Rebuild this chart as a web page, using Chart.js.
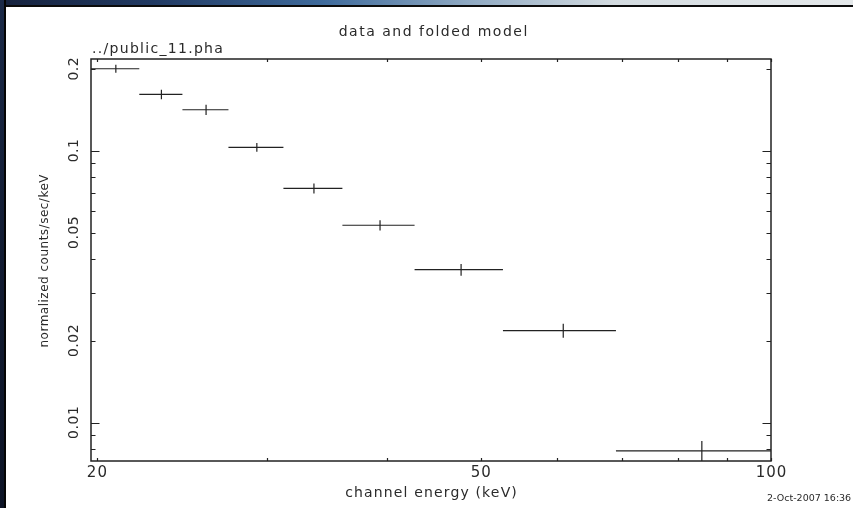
<!DOCTYPE html>
<html>
<head>
<meta charset="utf-8">
<title>data and folded model</title>
<script src="https://cdn.jsdelivr.net/npm/chart.js@4.4.1/dist/chart.umd.min.js"></script>
<style>
  html, body { margin: 0; padding: 0; background: #fff; }
  #frame { position: relative; width: 853px; height: 508px; overflow: hidden; background: #fff; }
  #plot { position: absolute; left: 0; top: 0; }
  #titlebar {
    position: absolute; left: 0; top: 0; width: 853px; height: 5px; z-index: 2;
    background: linear-gradient(90deg, #16223d 0%, #213a63 18%, #3f6b9c 38%, #8fa9c2 55%, #d3dbe0 72%, #e4e8ea 100%);
    border-bottom: 2px solid #0b0b0b;
  }
  #sidebar {
    position: absolute; left: 0; top: 0; width: 4px; height: 508px; z-index: 2;
    background: linear-gradient(180deg, #1b2a48 0%, #121c33 50%, #0d1426 100%);
    border-right: 2px solid #050505;
  }
</style>
</head>
<body>
<div id="frame">
  <canvas id="plot" width="853" height="508"></canvas>
  <div id="titlebar"></div>
  <div id="sidebar"></div>
</div>
<script>
// Spectrum bins: channel energy edges (keV), folded rate and 1-sigma error
const binLow  = [19.72, 22.13, 24.53, 27.38, 31.22, 35.94, 42.70, 52.73, 69.06];
const binHigh = [22.13, 24.53, 27.38, 31.22, 35.94, 42.70, 52.73, 69.06, 100.5];
const rate    = [0.2003, 0.1612, 0.1415, 0.1029, 0.0727, 0.0532, 0.0365, 0.0218, 0.00786];
const rateErr = [0.0068, 0.0064, 0.0061, 0.0038, 0.0031, 0.0023, 0.0018, 0.0013, 0.0007];

// Axis ranges
const xRange = [19.72, 100];
const yRange = [0.00722, 0.2175];

// Tick marks and labels
const xTickValues  = [20, 30, 40, 50, 60, 70, 80, 90, 100];
const xLabelValues = [20, 50, 100];
const xLabelText   = ['20', '50', '100'];
const yMajorTicks  = [0.01, 0.1];
const yMinorTicks  = [0.008, 0.009, 0.02, 0.03, 0.04, 0.05, 0.06, 0.07, 0.08, 0.09, 0.2];
const yLabelValues = [0.01, 0.02, 0.05, 0.1, 0.2];
const yLabelText   = ['0.01', '0.02', '0.05', '0.1', '0.2'];

// Text
const plotTitle  = 'data and folded model';
const fileName   = '../public_11.pha';
const xAxisTitle = 'channel energy (keV)';
const yAxisTitle = 'normalized counts/sec/keV';
const stampText  = '2-Oct-2007 16:36';

// Horizontal bars span each bin; vertical bars show the error at the bin centre.
const binBars = binLow.flatMap((lo, i) => [
  { x: lo, y: rate[i] },
  { x: binHigh[i], y: rate[i] },
  { x: binHigh[i], y: null }
]);
const errBars = binLow.flatMap((lo, i) => {
  const c = (lo + binHigh[i]) / 2;
  return [
    { x: c, y: rate[i] - rateErr[i] },
    { x: c, y: rate[i] + rateErr[i] },
    { x: c, y: null }
  ];
});

const INK = '#222';
const TEXT = '#2a2a2a';
const FONT = '"DejaVu Sans", "Liberation Sans", sans-serif';

// Draws text centred on (x, y) with extra spacing between letters.
function spacedText(ctx, str, x, y, spacing, align) {
  ctx.letterSpacing = spacing + 'px';
  const w = ctx.measureText(str).width - spacing;
  const start = align === 'left' ? x : x - w / 2;
  ctx.textAlign = 'left';
  ctx.fillText(str, start, y);
  ctx.letterSpacing = '0px';
}

const framePlugin = {
  id: 'pgFrame',
  afterDraw(chart) {
    const { ctx, chartArea: a, scales: { x, y } } = chart;
    ctx.save();
    ctx.strokeStyle = INK;
    ctx.lineWidth = 1.5;
    ctx.strokeRect(a.left, a.top, a.right - a.left, a.bottom - a.top);

    // inward tick marks on all four sides
    ctx.lineWidth = 1.2;
    ctx.beginPath();
    xTickValues.forEach(v => {
      const px = Math.round(x.getPixelForValue(v)) + 0.5;
      ctx.moveTo(px, a.bottom); ctx.lineTo(px, a.bottom - 3);
      ctx.moveTo(px, a.top); ctx.lineTo(px, a.top + 3);
    });
    const yTick = (v, len) => {
      const py = Math.round(y.getPixelForValue(v)) + 0.5;
      ctx.moveTo(a.left, py); ctx.lineTo(a.left + len, py);
      ctx.moveTo(a.right, py); ctx.lineTo(a.right - len, py);
    };
    yMajorTicks.forEach(v => yTick(v, 8.5));
    yMinorTicks.forEach(v => yTick(v, 4.5));
    ctx.stroke();

    ctx.fillStyle = TEXT;
    ctx.textBaseline = 'middle';

    // x tick labels
    ctx.font = '15px ' + FONT;
    xLabelValues.forEach((v, i) => {
      spacedText(ctx, xLabelText[i], x.getPixelForValue(v), a.bottom + 12, 1);
    });

    // y tick labels, written along the axis
    ctx.font = '14px ' + FONT;
    yLabelValues.forEach((v, i) => {
      ctx.save();
      ctx.translate(a.left - 17, y.getPixelForValue(v));
      ctx.rotate(-Math.PI / 2);
      spacedText(ctx, yLabelText[i], 0, 0, 0.5);
      ctx.restore();
    });

    // axis titles
    ctx.font = '14px ' + FONT;
    spacedText(ctx, xAxisTitle, 431, 493, 1.15);
    ctx.save();
    ctx.font = '12px ' + FONT;
    ctx.translate(45, 261);
    ctx.rotate(-Math.PI / 2);
    spacedText(ctx, yAxisTitle, 0, 0, 0.5);
    ctx.restore();

    // plot title and file name
    ctx.font = '14px ' + FONT;
    spacedText(ctx, plotTitle, 433, 32, 1.5);
    spacedText(ctx, fileName, a.left + 1, 49, 1.3, 'left');

    // time stamp
    ctx.font = '9.5px ' + FONT;
    spacedText(ctx, stampText, 767, 499, 0, 'left');
    ctx.restore();
  }
};

new Chart(document.getElementById('plot'), {
  type: 'line',
  data: {
    datasets: [
      { data: binBars, borderColor: INK, borderWidth: 1.2, pointRadius: 0, spanGaps: false, tension: 0 },
      { data: errBars, borderColor: INK, borderWidth: 1.2, pointRadius: 0, spanGaps: false, tension: 0 }
    ]
  },
  options: {
    responsive: false,
    animation: false,
    events: [],
    layout: { padding: { left: 91, right: 82, top: 59, bottom: 47 } },
    plugins: { legend: { display: false }, tooltip: { enabled: false }, title: { display: false } },
    scales: {
      x: { type: 'logarithmic', min: xRange[0], max: xRange[1], display: false },
      y: { type: 'logarithmic', min: yRange[0], max: yRange[1], display: false }
    }
  },
  plugins: [framePlugin]
});
</script>
</body>
</html>
